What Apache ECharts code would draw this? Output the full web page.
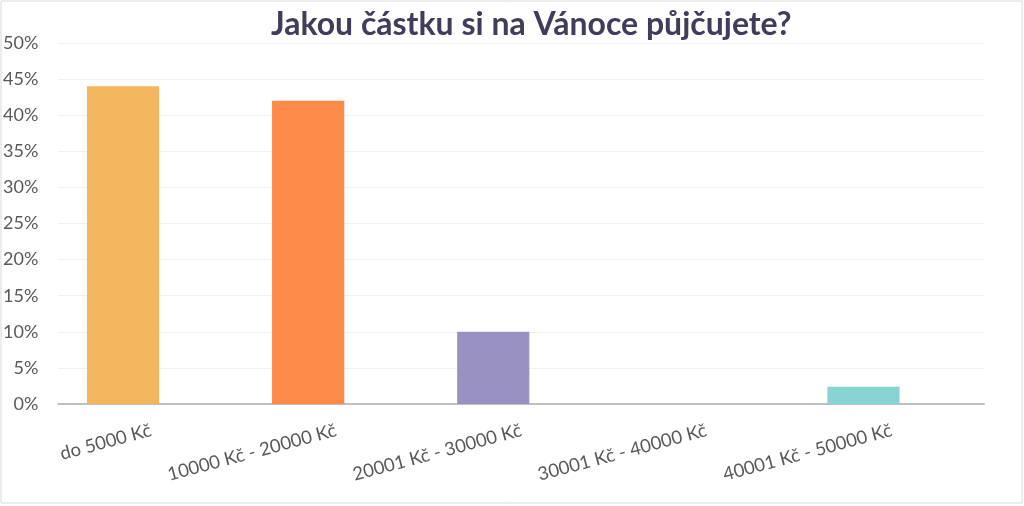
<!DOCTYPE html>
<html>
<head>
<meta charset="utf-8">
<script src="https://cdn.jsdelivr.net/npm/echarts@6/dist/echarts.min.js"></script>
<style>
html,body{margin:0;padding:0;background:#fff;}
#chart{width:1024px;height:506px;}
</style>
</head>
<body>
<div id="chart"></div>
<script>
const title = 'Jakou částku si na Vánoce půjčujete?';
const categories = ['do 5000 Kč', '10000 Kč - 20000 Kč', '20001 Kč - 30000 Kč', '30001 Kč - 40000 Kč', '40001 Kč - 50000 Kč'];
const values = [44, 42, 10, 0, 2.4];
const barColors = ['#F3B55D', '#FE8A4A', '#9891C1', '#A5A5A5', '#87D4D3'];

const chart = echarts.init(document.getElementById('chart'), null, {renderer: 'canvas'});
const font = 'Lato';
chart.setOption({
  backgroundColor: '#ffffff',
  animation: false,
  title: {
    text: title,
    left: 266,
    top: 4,
    textStyle: {fontFamily: font, fontSize: 32, fontWeight: 'bold', color: '#403C5A'}
  },
  graphic: [{
    type: 'rect', shape: {x: 1, y: 1, width: 1021, height: 502},
    style: {fill: 'none', stroke: '#D9D9D9', lineWidth: 1}, silent: true, z: -1
  }],
  grid: [
    {left: 58, right: 40, top: 43, bottom: 102},
    {left: 30.5, right: 68, top: 43, bottom: 102}
  ],
  xAxis: [{
    type: 'category', gridIndex: 0, data: categories,
    axisLine: {lineStyle: {color: '#BFBFBF', width: 2}},
    axisTick: {show: false},
    axisLabel: {rotate: 15, fontFamily: font, fontSize: 18.5, color: '#595959', margin: 26, interval: 0}
  }, {
    type: 'category', gridIndex: 1, data: categories, show: false
  }],
  yAxis: [{
    type: 'value', gridIndex: 0, min: 0, max: 50, interval: 5,
    axisLine: {show: false}, axisTick: {show: false},
    splitLine: {lineStyle: {color: '#F0F0F0', width: 1}},
    axisLabel: {formatter: '{value}%', fontFamily: font, fontSize: 18, color: '#595959', margin: 20}
  }, {
    type: 'value', gridIndex: 1, min: 0, max: 50, interval: 5, show: false
  }],
  series: [{
    type: 'bar', xAxisIndex: 1, yAxisIndex: 1,
    data: values.map((v, i) => ({value: v, itemStyle: {color: barColors[i]}})),
    barWidth: '39%'
  }]
});
</script>
</body>
</html>
